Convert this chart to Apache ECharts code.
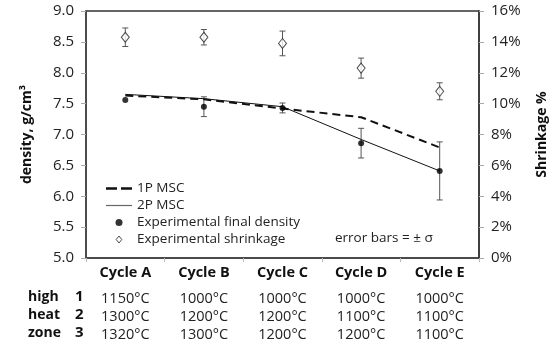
<!DOCTYPE html>
<html>
<head>
<meta charset="utf-8">
<script src="https://cdn.jsdelivr.net/npm/echarts@6/dist/echarts.min.js"></script>
<style>
  html, body { margin: 0; padding: 0; background: #fff; }
  #chart { width: 557px; height: 347px; }
</style>
</head>
<body>
<div id="chart"></div>
<script>
const cycles = ['Cycle A', 'Cycle B', 'Cycle C', 'Cycle D', 'Cycle E'];
const density1P = [7.63, 7.57, 7.42, 7.28, 6.79];
const density2P = [7.65, 7.58, 7.45, 6.92, 6.41];
const finalDensity = [7.56, 7.45, 7.43, 6.86, 6.41];
const densitySigma = [0, 0.16, 0.08, 0.24, 0.47];
const shrinkage = [14.3, 14.3, 13.9, 12.3, 10.8];
const shrinkSigma = [0.6, 0.5, 0.8, 0.65, 0.55];
const zone1 = ['1150°C', '1000°C', '1000°C', '1000°C', '1000°C'];
const zone2 = ['1300°C', '1200°C', '1200°C', '1100°C', '1100°C'];
const zone3 = ['1320°C', '1300°C', '1200°C', '1200°C', '1100°C'];
const rowNames = ['high', 'heat', 'zone'];
const rowNums = ['1', '2', '3'];

const FONT = '"Open Sans", sans-serif';
const chart = echarts.init(document.getElementById('chart'));

function errorBars(values, sigma, axisIndex) {
  return {
    type: 'custom',
    yAxisIndex: axisIndex,
    z: 1,
    silent: true,
    data: values.map((v, i) => [i, v - sigma[i], v + sigma[i]]),
    renderItem: function (params, api) {
      if (api.value(2) - api.value(1) <= 0) return null;
      const lo = api.coord([api.value(0), api.value(1)]);
      const hi = api.coord([api.value(0), api.value(2)]);
      const style = { stroke: '#555', lineWidth: 1 };
      return {
        type: 'group',
        children: [
          { type: 'line', shape: { x1: lo[0], y1: lo[1], x2: hi[0], y2: hi[1] }, style },
          { type: 'line', shape: { x1: lo[0] - 3, y1: lo[1], x2: lo[0] + 3, y2: lo[1] }, style },
          { type: 'line', shape: { x1: hi[0] - 3, y1: hi[1], x2: hi[0] + 3, y2: hi[1] }, style }
        ]
      };
    }
  };
}

const rowY = [299, 317, 335];
const graphics = [];
rowNames.forEach((t, i) => {
  graphics.push({ type: 'text', left: 28, top: rowY[i] - 9,
    style: { text: t, font: 'bold 14px ' + FONT, fill: '#111' } });
  graphics.push({ type: 'text', left: 75, top: rowY[i] - 10,
    style: { text: rowNums[i], font: 'bold 15px ' + FONT, fill: '#111' } });
});
graphics.push({ type: 'text', left: 335, top: 231,
  style: { text: 'error bars = ± σ', font: '13.5px ' + FONT, fill: '#222' } });

chart.setOption({
  animation: false,
  textStyle: { fontFamily: FONT },
  grid: { left: 86, right: 70, top: 11, bottom: 89, show: true, borderColor: '#333', borderWidth: 1.5 },
  legend: {
    orient: 'vertical',
    left: 101,
    top: 175,
    itemWidth: 26,
    itemHeight: 7,
    itemGap: 0,
    textStyle: { fontSize: 13.5, color: '#222', fontFamily: FONT, lineHeight: 17 },
    data: [
      { name: '1P MSC', icon: 'path://M0,0 H11 V2.5 H0 Z M15,0 H26 V2.5 H15 Z',
        itemStyle: { color: '#111' } },
      { name: '2P MSC', icon: 'path://M0,0 H26 V1.2 H0 Z', itemStyle: { color: '#666' } },
      { name: 'Experimental final density', icon: 'circle', itemStyle: { color: '#000' } },
      { name: 'Experimental shrinkage', icon: 'path://M4,0 L8,5 L4,10 L0,5 Z',
        itemStyle: { color: '#fff', borderColor: '#222', borderWidth: 1 } }
    ]
  },
  xAxis: {
    type: 'category',
    data: cycles,
    boundaryGap: true,
    axisLine: { lineStyle: { color: '#444', width: 1.5 } },
    axisTick: { show: true, length: 4, lineStyle: { color: '#bbb' } },
    axisLabel: {
      margin: 6,
      interval: 0,
      formatter: function (v, i) {
        return '{c|' + v + '}\n{g|}\n{t|' + zone1[i] + '}\n{t|' + zone2[i] + '}\n{t|' + zone3[i] + '}';
      },
      rich: {
        c: { fontSize: 14.5, fontWeight: 'bold', color: '#111', lineHeight: 18, fontFamily: FONT },
        g: { lineHeight: 8 },
        t: { fontSize: 14.5, color: '#222', lineHeight: 18, fontFamily: FONT }
      }
    }
  },
  yAxis: [
    {
      type: 'value',
      min: 5, max: 9, interval: 0.5,
      name: 'density, g/cm³',
      nameLocation: 'middle',
      nameRotate: 90,
      nameGap: 52,
      nameTextStyle: { fontSize: 14, fontWeight: 'bold', color: '#111', fontFamily: FONT },
      axisLine: { show: true, lineStyle: { color: '#444', width: 1.5 } },
      axisTick: { show: true, length: 5, lineStyle: { color: '#aaa' } },
      splitLine: { show: false },
      axisLabel: { margin: 12, fontSize: 15, color: '#222', formatter: v => v.toFixed(1) }
    },
    {
      type: 'value',
      min: 0, max: 16, interval: 2,
      name: 'Shrinkage %',
      nameLocation: 'middle',
      nameRotate: 90,
      nameGap: 56,
      nameTextStyle: { fontSize: 14, fontWeight: 'bold', color: '#111', fontFamily: FONT },
      axisLine: { show: true, lineStyle: { color: '#333', width: 1.5 } },
      axisTick: { show: true, length: 5, lineStyle: { color: '#aaa' } },
      splitLine: { show: false },
      axisLabel: { margin: 12, fontSize: 15, color: '#222', formatter: v => v + '%' }
    }
  ],
  series: [
    errorBars(finalDensity, densitySigma, 0),
    errorBars(shrinkage, shrinkSigma, 1),
    {
      name: '1P MSC', type: 'line', data: density1P, symbol: 'none', z: 2,
      lineStyle: { color: '#111', width: 2, type: [8, 5] }, itemStyle: { color: '#111' }
    },
    {
      name: '2P MSC', type: 'line', data: density2P, symbol: 'none', z: 2,
      lineStyle: { color: '#111', width: 1 }, itemStyle: { color: '#111' }
    },
    {
      name: 'Experimental final density', type: 'scatter', data: finalDensity,
      symbol: 'circle', symbolSize: 6, z: 3, itemStyle: { color: '#000' }
    },
    {
      name: 'Experimental shrinkage', type: 'scatter', data: shrinkage, yAxisIndex: 1,
      symbol: 'diamond', symbolSize: [8, 10], z: 3,
      itemStyle: { color: '#fff', borderColor: '#222', borderWidth: 1 }
    }
  ],
  graphic: graphics
});
</script>
</body>
</html>
